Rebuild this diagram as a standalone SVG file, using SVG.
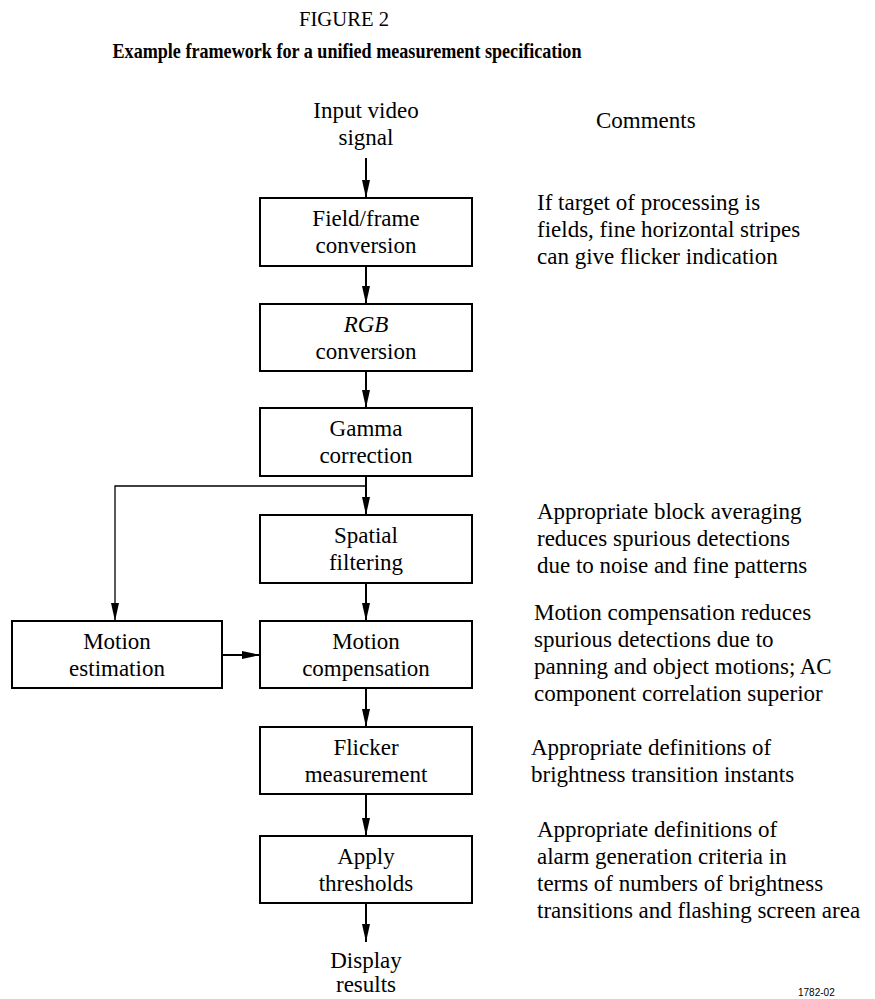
<svg xmlns="http://www.w3.org/2000/svg" width="875" height="999" viewBox="0 0 875 999">
<defs>
<style>
text{font-family:"Liberation Serif","Times New Roman",serif;font-size:23px;fill:#000}
text.fig{font-size:20px}
text.ttl{font-size:21px;font-weight:bold}
text.num{font-family:"Liberation Sans",Arial,sans-serif;font-size:10px}
.c{text-anchor:middle}
.box{fill:#fff;stroke:#000;stroke-width:2}
.ln{stroke:#000;stroke-width:2;fill:none}
.thin{stroke:#000;stroke-width:1.3;fill:none}
</style>
<marker id="ah" markerWidth="18" markerHeight="8" refX="18" refY="4" orient="auto" markerUnits="userSpaceOnUse" viewBox="0 0 18 8">
<path d="M0,0 L18,4 L0,8 Z" fill="#000"/>
</marker>
</defs>
<rect width="875" height="999" fill="#fff"/>
<text class="fig c" x="344" y="26" textLength="90" lengthAdjust="spacingAndGlyphs">FIGURE 2</text>
<text class="ttl c" x="347" y="58" textLength="469" lengthAdjust="spacingAndGlyphs">Example framework for a unified measurement specification</text>

<g id="connectors">
<line class="ln" x1="366" y1="158" x2="366" y2="198" marker-end="url(#ah)"/>
<line class="ln" x1="366" y1="266" x2="366" y2="304" marker-end="url(#ah)"/>
<line class="ln" x1="366" y1="371" x2="366" y2="408" marker-end="url(#ah)"/>
<line class="ln" x1="366" y1="476" x2="366" y2="515" marker-end="url(#ah)"/>
<polyline class="thin" points="366,486 115,486 115,621" marker-end="url(#ah)"/>
<line class="ln" x1="366" y1="583" x2="366" y2="621" marker-end="url(#ah)"/>
<line class="ln" x1="222" y1="655" x2="260" y2="655" marker-end="url(#ah)"/>
<line class="ln" x1="366" y1="688" x2="366" y2="727" marker-end="url(#ah)"/>
<line class="ln" x1="366" y1="794" x2="366" y2="836" marker-end="url(#ah)"/>
<line class="ln" x1="366" y1="903" x2="366" y2="942" marker-end="url(#ah)"/>
</g>

<g id="input"><text class="c" x="366" y="118">Input video</text><text class="c" x="366" y="145">signal</text></g>
<g id="comments-head"><text x="596" y="128">Comments</text></g>
<g id="field-frame"><rect class="box" x="260" y="198" width="212" height="68"/><text class="c" x="366" y="226">Field/frame</text><text class="c" x="366" y="253">conversion</text></g>
<g id="rgb"><rect class="box" x="260" y="304" width="212" height="67"/><text class="c" x="366" y="332" font-style="italic">RGB</text><text class="c" x="366" y="359">conversion</text></g>
<g id="gamma"><rect class="box" x="260" y="408" width="212" height="68"/><text class="c" x="366" y="436">Gamma</text><text class="c" x="366" y="463">correction</text></g>
<g id="spatial"><rect class="box" x="260" y="515" width="212" height="68"/><text class="c" x="366" y="543">Spatial</text><text class="c" x="366" y="570">filtering</text></g>
<g id="motion-est"><rect class="box" x="12" y="621" width="210" height="67"/><text class="c" x="117" y="649">Motion</text><text class="c" x="117" y="676">estimation</text></g>
<g id="motion-comp"><rect class="box" x="260" y="621" width="212" height="67"/><text class="c" x="366" y="649">Motion</text><text class="c" x="366" y="676">compensation</text></g>
<g id="flicker"><rect class="box" x="260" y="727" width="212" height="67"/><text class="c" x="366" y="755">Flicker</text><text class="c" x="366" y="782">measurement</text></g>
<g id="apply"><rect class="box" x="260" y="836" width="212" height="67"/><text class="c" x="366" y="864">Apply</text><text class="c" x="366" y="891">thresholds</text></g>
<g id="display"><text class="c" x="366" y="968">Display</text><text class="c" x="366" y="992">results</text></g>

<g id="comment1"><text x="537" y="210">If target of processing is</text><text x="537" y="237">fields, fine horizontal stripes</text><text x="537" y="264">can give flicker indication</text></g>
<g id="comment2"><text x="537" y="519">Appropriate block averaging</text><text x="537" y="546">reduces spurious detections</text><text x="537" y="573">due to noise and fine patterns</text></g>
<g id="comment3"><text x="534" y="620">Motion compensation reduces</text><text x="534" y="647">spurious detections due to</text><text x="534" y="674">panning and object motions; AC</text><text x="534" y="701">component correlation superior</text></g>
<g id="comment4"><text x="531" y="755">Appropriate definitions of</text><text x="531" y="782">brightness transition instants</text></g>
<g id="comment5"><text x="537" y="837">Appropriate definitions of</text><text x="537" y="864">alarm generation criteria in</text><text x="537" y="891">terms of numbers of brightness</text><text x="537" y="918">transitions and flashing screen area</text></g>
<text class="num" x="798" y="996">1782-02</text>
</svg>
